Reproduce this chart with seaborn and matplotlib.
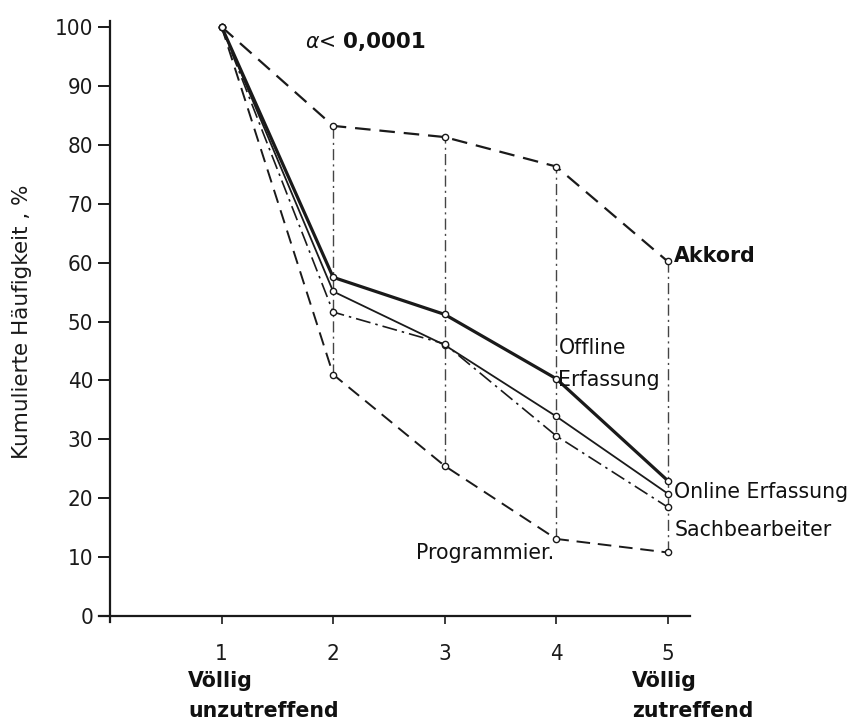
import numpy as np
import pandas as pd
import matplotlib
matplotlib.use("Agg")
import matplotlib.pyplot as plt
import seaborn as sns

sns.set_theme(style="white")
plt.rcParams["font.family"] = ["DejaVu Sans"]

stufen = [1, 2, 3, 4, 5]
akkord = [100, 83.2, 81.3, 76.3, 60.2]
offline = [100, 57.5, 51.2, 40.3, 23.0]
online = [100, 55.1, 46.0, 33.9, 20.8]
sachbearbeiter = [100, 51.6, 46.2, 30.6, 18.5]
programmier = [100, 41.0, 25.5, 13.1, 10.8]

y_ticks = [0, 10, 20, 30, 40, 50, 60, 70, 80, 90, 100]

series = {
    "Akkord": (akkord, (0, (7, 4)), 1.6),
    "Offline Erfassung": (offline, "-", 2.3),
    "Online Erfassung": (online, "-", 1.3),
    "Sachbearbeiter": (sachbearbeiter, (0, (9, 3, 1.5, 3)), 1.2),
    "Programmier.": (programmier, (0, (7, 4)), 1.4),
}

fig = plt.figure(figsize=(8.57, 7.27), dpi=100)
ax = fig.add_axes([99 / 857, 105 / 727, 591 / 857, 601 / 727])

# vertical guide lines from Akkord down to Programmier.
for x, top, bottom in zip(stufen[1:], akkord[1:], programmier[1:]):
    ax.plot([x, x], [bottom, top], color="#444444", lw=1.0,
            linestyle=(0, (8, 3, 1.5, 3)), zorder=1)

for name, (vals, ls, lw) in series.items():
    df = pd.DataFrame({"stufe": stufen, "wert": vals})
    sns.lineplot(data=df, x="stufe", y="wert", ax=ax, color="#1a1a1a",
                 linewidth=lw, linestyle=ls, marker="o", markersize=4.5,
                 markerfacecolor="white", markeredgecolor="#1a1a1a",
                 markeredgewidth=1.0, zorder=3)

ax.set_xlim(-0.1, 5.2)
ax.set_ylim(-1, 101)
ax.spines["left"].set_position(("data", 0))
ax.spines["left"].set_bounds(-1, 101)
ax.spines["top"].set_visible(False)
ax.spines["right"].set_visible(False)
for s in ["left", "bottom"]:
    ax.spines[s].set_linewidth(1.6)
    ax.spines[s].set_color("#1a1a1a")
ax.spines["bottom"].set_position(("data", 0))

ax.set_xticks(stufen)
ax.set_xticklabels([str(s) for s in stufen])
ax.set_yticks(y_ticks)
ax.set_yticklabels([str(t) for t in y_ticks])
ax.tick_params(axis="y", direction="out", length=9, width=1.4, labelsize=16,
               colors="#1a1a1a", left=True, pad=3)
ax.tick_params(axis="x", direction="out", length=6, width=1.2, labelsize=16,
               colors="#1a1a1a", bottom=True, pad=14)
for t in ax.get_xticklabels() + ax.get_yticklabels():
    t.set_fontstretch("condensed")
ax.set_xlabel("")
ax.set_ylabel("Kumulierte Häufigkeit , %", fontsize=15.5, color="#1a1a1a")
ax.yaxis.set_label_coords(-0.113, 0.5)

lab = dict(fontsize=14.8, color="#111111")
ax.text(5.06, 61.2, "Akkord", va="center", ha="left", fontweight="semibold", **lab)
ax.text(4.02, 47.2, "Offline\nErfassung", va="top", ha="left",
        linespacing=1.75, **lab)
ax.text(5.06, 21.0, "Online Erfassung", va="center", ha="left", **lab)
ax.text(5.06, 14.6, "Sachbearbeiter", va="center", ha="left", **lab)
ax.text(3.98, 10.7, "Programmier.", va="center", ha="right", **lab)
ax.text(1.75, 97.5, r"$\alpha$<", va="center", ha="left", **lab)
ax.text(2.09, 97.5, "0,0001", va="center", ha="left", fontweight="bold",
        fontsize=15.5, color="#111111")

ax.text(0.7, -9.3, "Völlig\nunzutreffend", va="top", ha="left",
        fontweight="semibold", linespacing=1.6, **lab)
ax.text(4.68, -9.3, "Völlig\nzutreffend", va="top", ha="left",
        fontweight="semibold", linespacing=1.6, **lab)

fig.savefig("out.png", dpi=100, facecolor="white")
